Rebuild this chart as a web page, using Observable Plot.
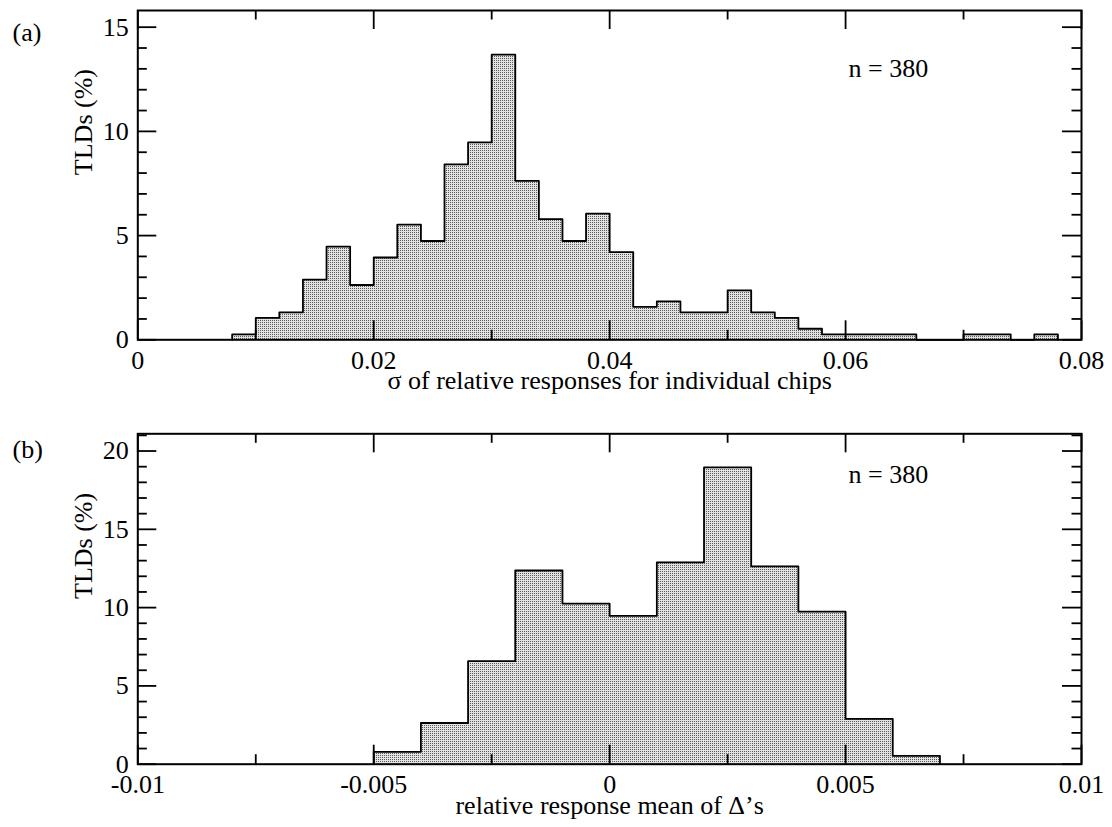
<!DOCTYPE html>
<html>
<head>
<meta charset="utf-8">
<script src="https://cdn.jsdelivr.net/npm/d3@7"></script>
<script src="https://cdn.jsdelivr.net/npm/@observablehq/plot@0.6"></script>
<style>
  body { margin: 0; background: #fff; font-family: "Liberation Serif", Tinos, "DejaVu Serif", serif; }
  #fig { position: relative; width: 1112px; height: 827px; }
  #fig > svg { position: absolute; left: 0; }
  #fig svg text { font-family: "Liberation Serif", Tinos, "DejaVu Serif", serif !important; }
</style>
</head>
<body>
<!-- stipple fill shared by both histograms -->
<svg width="0" height="0" style="position:absolute">
  <defs>
    <pattern id="dots" patternUnits="userSpaceOnUse" width="2" height="2">
      <rect width="2" height="2" fill="#e2e2e2"></rect>
      <rect width="1" height="1" fill="#5a5a5a"></rect>
    </pattern>
  </defs>
</svg>
<div id="fig"></div>
<script>
// (a) spread of relative responses per chip: bin left edges and share of TLDs (%)
const sigmaBins = [0.008, 0.010, 0.012, 0.014, 0.016, 0.018, 0.020, 0.022, 0.024, 0.026,
                   0.028, 0.030, 0.032, 0.034, 0.036, 0.038, 0.040, 0.042, 0.044, 0.046,
                   0.048, 0.050, 0.052, 0.054, 0.056, 0.058, 0.060, 0.062, 0.064, 0.066,
                   0.068, 0.070, 0.072, 0.074, 0.076];
const sigmaBinWidth = 0.002;
const sigmaPct = [0.26, 1.05, 1.32, 2.89, 4.47, 2.63, 3.95, 5.53, 4.74, 8.42,
                  9.47, 13.68, 7.63, 5.79, 4.74, 6.05, 4.21, 1.58, 1.84, 1.32,
                  1.32, 2.37, 1.32, 1.05, 0.53, 0.26, 0.26, 0.26, 0.26, 0,
                  0, 0.26, 0.26, 0, 0.26];

// (b) mean of the relative response deltas
const meanBins = [-0.005, -0.004, -0.003, -0.002, -0.001, 0, 0.001, 0.002, 0.003, 0.004, 0.005, 0.006];
const meanBinWidth = 0.001;
const meanPct = [0.79, 2.63, 6.58, 12.37, 10.26, 9.47, 12.89, 18.95, 12.63, 9.74, 2.89, 0.53];

// axis ticks and their labels
const sigmaXMajor = [0, 0.02, 0.04, 0.06, 0.08];
const sigmaXLabels = ["0", "0.02", "0.04", "0.06", "0.08"];
const sigmaXMinor = [0.01, 0.03, 0.05, 0.07];
const sigmaYMajor = [0, 5, 10, 15];
const sigmaYLabels = ["0", "5", "10", "15"];
const sigmaYMinor = [1, 2, 3, 4, 6, 7, 8, 9, 11, 12, 13, 14];

const meanXMajor = [-0.01, -0.005, 0, 0.005, 0.01];
const meanXLabels = ["-0.01", "-0.005", "0", "0.005", "0.01"];
const meanXMinor = [-0.0075, -0.0025, 0.0025, 0.0075];
const meanYMajor = [0, 5, 10, 15, 20];
const meanYLabels = ["0", "5", "10", "15", "20"];
const meanYMinor = [1, 2, 3, 4, 6, 7, 8, 9, 11, 12, 13, 14, 16, 17, 18, 19, 21];

const sampleNote = "n = 380";
const yTitle = "TLDs (%)";

const W = 1112, ML = 137.3, MR = 31;
const FONT = "'Liberation Serif', Tinos, 'DejaVu Serif', serif";
const FS = 26;

function histogram(o) {
  const bars = o.bins.map((x, i) => ({x1: x, x2: x + o.binWidth, y: o.values[i]}));
  // outline traced as a step curve from the first left edge back down to zero
  const outline = [{x: o.bins[0], y: 0}]
    .concat(bars.map(b => ({x: b.x1, y: b.y})))
    .concat([{x: bars[bars.length - 1].x2, y: 0}]);
  const fh = o.height - o.marginTop - o.marginBottom;
  const fw = W - ML - MR;
  const MAJ = 19, MIN = 9.5;
  const xFmt = new Map(o.xMajor.map((d, i) => [d, o.xLabels[i]]));
  const yFmt = new Map(o.yMajor.map((d, i) => [d, o.yLabels[i]]));
  const tickStyle = {stroke: "black", strokeWidth: 1.8};
  const txt = {fontSize: FS, fontFamily: FONT, fill: "black"};
  return Plot.plot({
    width: W, height: o.height,
    marginLeft: ML, marginRight: MR, marginTop: o.marginTop, marginBottom: o.marginBottom,
    style: {fontFamily: FONT, fontSize: FS + "px", background: "white", overflow: "visible", color: "black"},
    x: {domain: o.xDomain},
    y: {domain: o.yDomain},
    marks: [
      Plot.rectY(bars, {x1: "x1", x2: "x2", y: "y", fill: "url(#dots)", insetLeft: 0, insetRight: 0}),
      Plot.line(outline, {x: "x", y: "y", curve: "step-after", stroke: "black", strokeWidth: 1.8}),
      // inward ticks on all four sides
      Plot.tickX(o.xMajor, {x: d => d, insetTop: fh - MAJ, ...tickStyle}),
      Plot.tickX(o.xMajor, {x: d => d, insetBottom: fh - MAJ, ...tickStyle}),
      Plot.tickX(o.xMinor, {x: d => d, insetTop: fh - MIN, ...tickStyle}),
      Plot.tickX(o.xMinor, {x: d => d, insetBottom: fh - MIN, ...tickStyle}),
      Plot.tickY(o.yMajor, {y: d => d, insetRight: fw - MAJ, ...tickStyle}),
      Plot.tickY(o.yMajor, {y: d => d, insetLeft: fw - MAJ, ...tickStyle}),
      Plot.tickY(o.yMinor, {y: d => d, insetRight: fw - MIN, ...tickStyle}),
      Plot.tickY(o.yMinor, {y: d => d, insetLeft: fw - MIN, ...tickStyle}),
      Plot.frame({stroke: "black", strokeWidth: 2}),
      Plot.axisX({ticks: o.xMajor, tickFormat: d => xFmt.get(d), tickSize: 0, tickPadding: 10.5,
                  label: null, ...txt}),
      Plot.axisY({ticks: o.yMajor, tickFormat: d => yFmt.get(d), tickSize: 0, tickPadding: 9,
                  label: null, ...txt}),
      Plot.text([o.xTitle], {frameAnchor: "bottom", dy: 49.5, lineAnchor: "bottom", ...txt}),
      Plot.text([yTitle], {frameAnchor: "left", dx: -46, rotate: -90, lineAnchor: "bottom", ...txt}),
      Plot.text([o.tag], {frameAnchor: "top-left", dx: 12 - ML, dy: o.tagDy, lineAnchor: "bottom",
                          textAnchor: "start", ...txt}),
      Plot.text([sampleNote], {frameAnchor: "top-left", dx: 848 - ML, dy: o.noteDy, lineAnchor: "bottom",
                               textAnchor: "start", ...txt})
    ]
  });
}

const panelA = histogram({
  bins: sigmaBins, binWidth: sigmaBinWidth, values: sigmaPct,
  xDomain: [0, 0.08], yDomain: [0, 15.8],
  xMajor: sigmaXMajor, xLabels: sigmaXLabels, xMinor: sigmaXMinor,
  yMajor: sigmaYMajor, yLabels: sigmaYLabels, yMinor: sigmaYMinor,
  xTitle: "σ of relative responses for individual chips", tag: "(a)",
  height: 413, marginTop: 10, marginBottom: 73.7, tagDy: 30, noteDy: 66
});
panelA.style.top = "0px";

const panelB = histogram({
  bins: meanBins, binWidth: meanBinWidth, values: meanPct,
  xDomain: [-0.01, 0.01], yDomain: [0, 21.1],
  xMajor: meanXMajor, xLabels: meanXLabels, xMinor: meanXMinor,
  yMajor: meanYMajor, yLabels: meanYLabels, yMinor: meanYMinor,
  xTitle: "relative response mean of Δ’s", tag: "(b)",
  height: 414, marginTop: 20.3, marginBottom: 63.3, tagDy: 23.7, noteDy: 49
});
panelB.style.top = "413px";

const fig = document.getElementById("fig");
fig.appendChild(panelA);
fig.appendChild(panelB);
</script>
</body>
</html>
